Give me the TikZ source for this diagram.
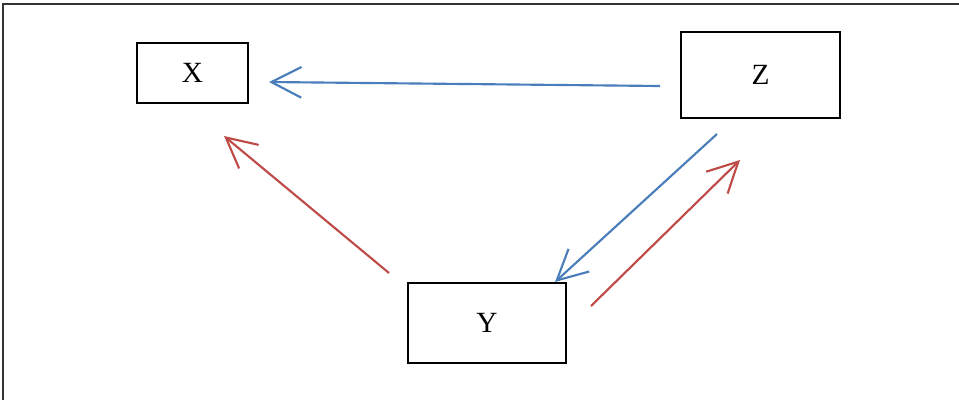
\documentclass[tikz,border=0pt]{standalone}
\usepackage{fontspec}
\setmainfont{Liberation Serif}
\usetikzlibrary{arrows.meta}
\definecolor{oblue}{HTML}{4A7EBB}
\definecolor{ored}{HTML}{BE4B48}
\tikzset{
  box/.style={draw=black, line width=1.5pt, inner sep=0pt, font=\fontsize{22pt}{24pt}\selectfont},
  conn/.style={line width=1.6pt, -{Straight Barb[length=22.5pt,width=23pt,line width=1.6pt]}},
  bluec/.style={conn, draw=oblue},
  redc/.style={conn, draw=ored},
  frame/.style={draw=black!80, line width=0.9pt}
}
\begin{document}
\begin{tikzpicture}[x=0.75pt,y=-0.75pt]
\useasboundingbox (0,0) rectangle (959,400);
\coordinate (fa) at (3,400);
\coordinate (fb) at (3,4);
\coordinate (fc) at (959,4);
\draw[frame] (fa) -- (fb) -- (fc);
\node[box, minimum width=111*0.75pt, minimum height=60*0.75pt] (X) at (192.5,73) {X};
\node[box, minimum width=159*0.75pt, minimum height=86*0.75pt] (Z) at (760.5,75) {Z};
\node[box, minimum width=158*0.75pt, minimum height=80*0.75pt] (Y) at (487,323) {Y};
\draw[bluec] ([shift={(-20,11)}]Z.west) -- ([shift={(20,9)}]X.east);
\draw[bluec] ([shift={(-43.5,15)}]Z.south) -- ([shift={(-12,0)}]Y.north east);
\draw[redc] ([shift={(-18,-9)}]Y.north west) -- ([shift={(31.5,32)}]X.south);
\draw[redc] ([shift={(24,-17)}]Y.east) -- ([shift={(-20.5,41)}]Z.south);
\end{tikzpicture}
\end{document}
